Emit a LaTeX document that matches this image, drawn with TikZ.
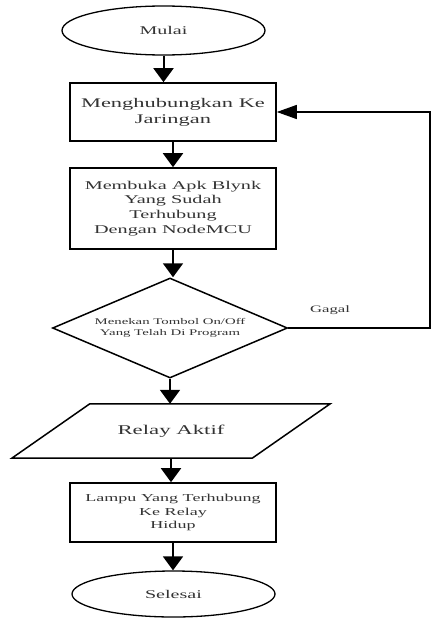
\documentclass[tikz,border=0pt]{standalone}
\usepackage{fontspec}
\setmainfont{Liberation Serif}[FakeStretch=1.7]
\usetikzlibrary{shapes.geometric,arrows.meta}

\tikzset{
  prosesbox/.style={draw,line width=1.6pt,rectangle,minimum width=206pt,align=center,inner sep=0pt,text=black!80},
  terminal/.style={draw,line width=1.3pt,ellipse,minimum width=203pt,inner sep=0pt,text=black!80},
  alur/.style={line width=2pt,-{Triangle[width=20pt,length=14pt]}},
}

\begin{document}
\begin{tikzpicture}
	[x=1pt,y=-1pt]

\useasboundingbox (0,0) rectangle (433,618);

	\node[terminal,minimum height=49pt,font=\fontsize{11.8}{14}\selectfont] (mulai) at (163.5,30.5) {Mulai};
	\node[prosesbox,minimum height=58pt,font=\fontsize{13.2}{16}\selectfont] (hubung) at (173,112) {Menghubungkan Ke\\Jaringan};
	\node[prosesbox,minimum height=81pt,font=\fontsize{11.9}{14.7}\selectfont] (blynk) at (173,208.5) {Membuka Apk Blynk\\Yang Sudah\\Terhubung\\Dengan NodeMCU};
	\node[draw,diamond,shape aspect=2.35,line width=1.5pt,minimum width=235pt,minimum height=100pt,inner sep=0pt,align=center,text=black!80,font=\fontsize{8.7}{11}\selectfont] (tombol) at (170,328) {Menekan Tombol On/Off\\Yang Telah Di Program};
	\node[minimum width=240pt,minimum height=54pt,inner sep=0pt,text=black!80,font=\fontsize{13.4}{16}\selectfont] (relay) at (171,431) {Relay Aktif};
	\draw[line width=1.5pt] ([xshift=39pt]relay.north west)--([xshift=39pt]relay.north east)--([xshift=-39pt]relay.south east)--([xshift=-39pt]relay.south west)--cycle;
	\node[prosesbox,minimum height=59pt,font=\fontsize{10.6}{13.7}\selectfont] (lampu) at (173,512.5) {Lampu Yang Terhubung\\Ke Relay\\Hidup};
	\node[terminal,minimum height=46pt,font=\fontsize{11.8}{14}\selectfont] (selesai) at (173.5,594) {Selesai};

	\draw[alur] (mulai.south)--(mulai.south |- hubung.north);
	\draw[alur] (hubung.south)--(hubung.south |- blynk.north);
	\draw[alur] (blynk.south)--(blynk.south |- tombol.north);
	\draw[alur] (tombol.south)--(tombol.south |- relay.north);
	\draw[alur] (relay.south)--(relay.south |- lampu.north);
	\draw[alur] (lampu.south)--(lampu.south |- selesai.north);

	% gagal: kembali ke jaringan
	\coordinate (balik) at (430,328);
	\draw[line width=1.3pt,-{Triangle[width=14pt,length=20pt]}] (tombol.east)--(balik)|-(hubung.east);
	\node[text=black!80,font=\fontsize{9.8}{12}\selectfont] (gagal) at (330,310) {Gagal};

\end{tikzpicture}
\end{document}
